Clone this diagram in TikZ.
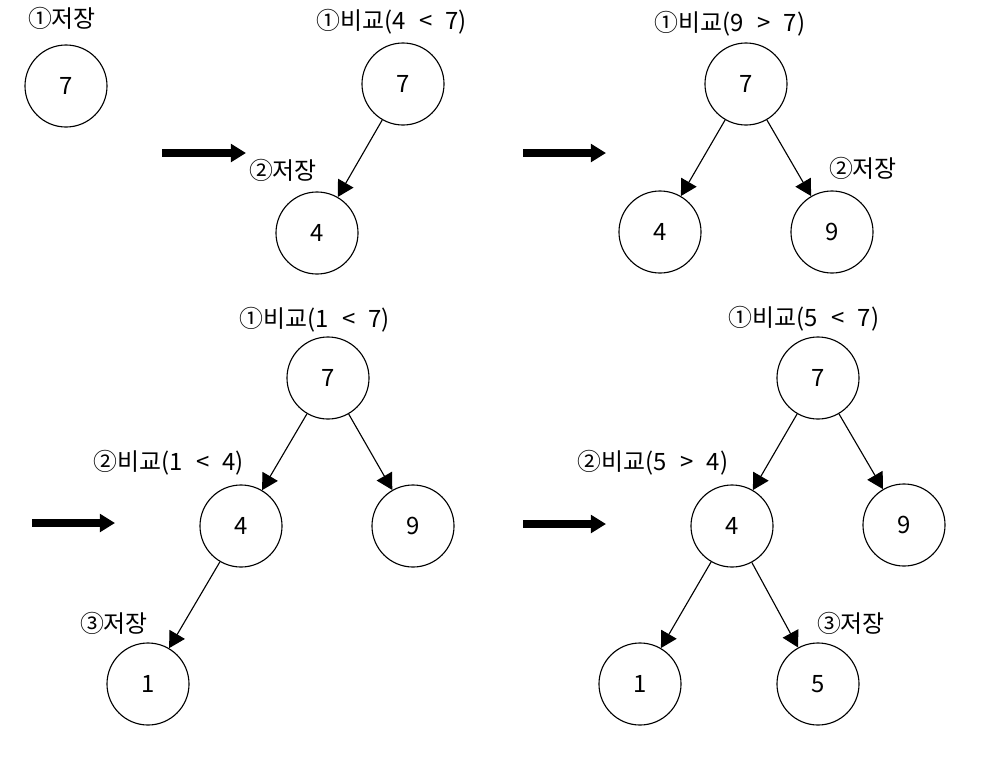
\documentclass[tikz,border=0pt]{standalone}
\usepackage{fontspec}
\setmainfont{Noto Sans CJK KR}
\usetikzlibrary{arrows.meta}
\newcommand{\wsp}{\hspace{0.55em}}
\begin{document}
\begin{tikzpicture}[x=0.025cm, y=-0.025cm,
  nd/.style={circle, draw, line width=0.8pt, minimum size=2.05cm, inner sep=0pt, font=\fontsize{17pt}{20pt}\selectfont},
  lbl/.style={inner sep=0pt, font=\fontsize{17pt}{20pt}\selectfont},
  edge/.style={line width=0.8pt, -{Triangle[length=0.4cm,width=0.44cm]}},
  bigarrow/.style={line width=0.22cm, -{Triangle[length=0.38cm,width=0.44cm]}}]
\useasboundingbox (0,0) rectangle (1007,757);

% panel 1
\node[lbl] (l1a) at (62,18) {①저장};
\node[nd] (a7) at (66,86) {7};

% arrow 1
\coordinate (s1) at (162,153);
\coordinate (e1) at (246,153);
\draw[bigarrow] (s1) -- (e1);

% panel 2
\node[lbl] (l2a) at (392,22) {①비교(4\wsp<\wsp7)};
\node[nd] (b7) at (403,84) {7};
\node[nd] (b4) at (317,233) {4};
\node[lbl] (l2b) at (283,170) {②저장};
\draw[edge] (b7) -- (b4);

% arrow 2
\coordinate (s2) at (523,153);
\coordinate (e2) at (606,153);
\draw[bigarrow] (s2) -- (e2);

% panel 3
\node[lbl] (l3a) at (730,24) {①비교(9\wsp>\wsp7)};
\node[nd] (c7) at (746,84) {7};
\node[nd] (c4) at (660,232) {4};
\node[nd] (c9) at (832,232) {9};
\node[lbl] (l3b) at (863,168) {②저장};
\draw[edge] (c7) -- (c4);
\draw[edge] (c7) -- (c9);

% arrow 3
\coordinate (s3) at (32,523);
\coordinate (e3) at (115,523);
\draw[bigarrow] (s3) -- (e3);

% panel 4
\node[lbl] (l4a) at (315,320) {①비교(1\wsp<\wsp7)};
\node[nd] (d7) at (328,378) {7};
\node[nd] (d4) at (241,526) {4};
\node[nd] (d9) at (413,526) {9};
\node[nd] (d1) at (148,684) {1};
\node[lbl] (l4b) at (169,463) {②비교(1\wsp<\wsp4)};
\node[lbl] (l4c) at (114,623) {③저장};
\draw[edge] (d7) -- (d4);
\draw[edge] (d7) -- (d9);
\draw[edge] (d4) -- (d1);

% arrow 4
\coordinate (s4) at (523,524);
\coordinate (e4) at (606,524);
\draw[bigarrow] (s4) -- (e4);

% panel 5
\node[lbl] (l5a) at (804,319) {①비교(5\wsp<\wsp7)};
\node[nd] (f7) at (818,378) {7};
\node[nd] (f4) at (732,526) {4};
\node[nd] (f9) at (904,525) {9};
\node[nd] (f1) at (640,684) {1};
\node[nd] (f5) at (818,684) {5};
\node[lbl] (l5b) at (653,463) {②비교(5\wsp>\wsp4)};
\node[lbl] (l5c) at (851,623) {③저장};
\draw[edge] (f7) -- (f4);
\draw[edge] (f7) -- (f9);
\draw[edge] (f4) -- (f1);
\draw[edge] (f4) -- (f5);
\end{tikzpicture}
\end{document}
